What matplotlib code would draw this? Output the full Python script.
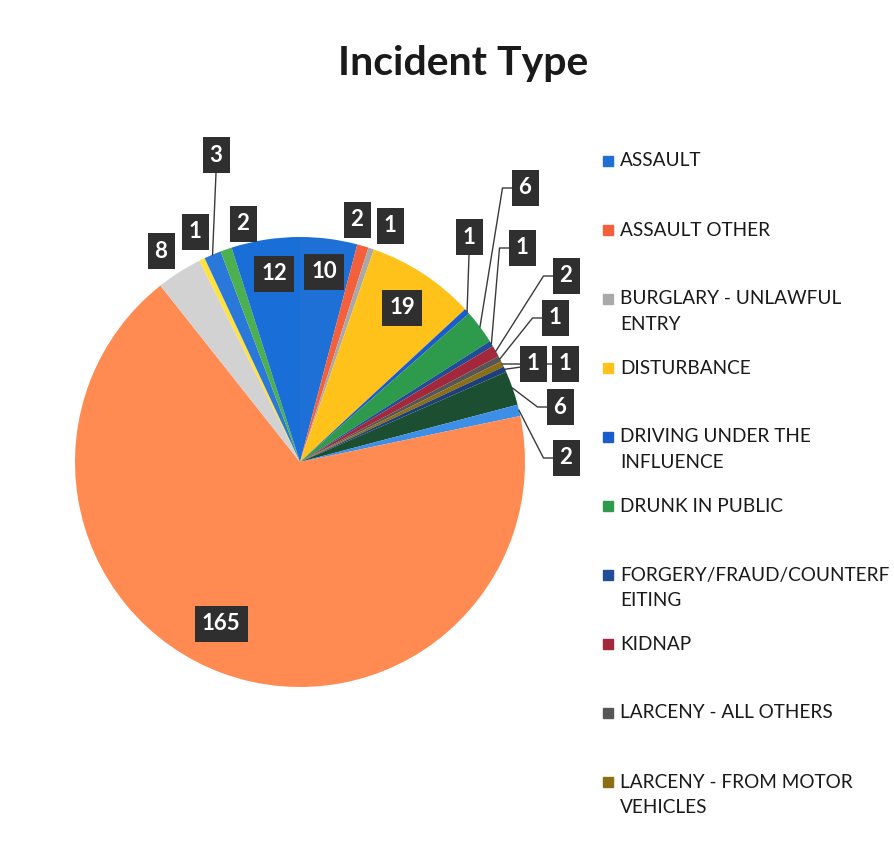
import numpy as np
import matplotlib
matplotlib.use("Agg")
import matplotlib.pyplot as plt
from matplotlib.patches import Rectangle

W, H = 894, 843

title = "Incident Type"

legend_labels = [
    "ASSAULT",
    "ASSAULT OTHER",
    "BURGLARY - UNLAWFUL\nENTRY",
    "DISTURBANCE",
    "DRIVING UNDER THE\nINFLUENCE",
    "DRUNK IN PUBLIC",
    "FORGERY/FRAUD/COUNTERF\nEITING",
    "KIDNAP",
    "LARCENY - ALL OTHERS",
    "LARCENY - FROM MOTOR\nVEHICLES",
]

# slice values, clockwise from 12 o'clock (only first 10 appear in legend)
counts = [10, 2, 1, 19, 1, 6, 1, 2, 1, 1, 1, 6, 2, 165, 8, 1, 3, 2, 12]

colors = [
    "#1E6FD6", "#F4603C", "#A9A9A9", "#FFC21A", "#1A5CCB", "#2E9A4C",
    "#1F4E96", "#A3283C", "#565656", "#8C6E14", "#1E3F7A", "#1C4F32",
    "#3C8EE6", "#FF8A52", "#D2D2D2", "#FFE23A", "#2A78DA", "#4CAF50",
    "#1A6ED8",
]

# label box centres in image pixels (x, y from top) and leader style
label_pos = [
    (324, 272, None), (357, 220, None), (390, 226, None), (402, 308, None),
    (469, 237, "v"), (525, 188, "h"), (522, 248, "h"), (566, 276, "h"),
    (555, 318, "h"), (533, 364, "h"), (565, 364, "h"), (560, 407, "h"),
    (566, 458, "h"), (221, 624, None), (161, 251, None), (195, 232, None),
    (216, 155, "v"), (243, 224, None), (274, 274, None),
]

cx, cy, R = 300, H - 462, 225
box_h = 36

fig = plt.figure(figsize=(W / 100, H / 100), dpi=100)
fig.patch.set_facecolor("white")
ax = fig.add_axes([0, 0, 1, 1])

wedges, _ = ax.pie(counts, colors=colors, startangle=90, counterclock=False,
                   center=(cx, cy), radius=R,
                   wedgeprops=dict(linewidth=0))
ax.set_xlim(0, W)
ax.set_ylim(0, H)
ax.set_aspect("equal")
ax.axis("off")

# data labels
for w, v, (lx, ly, lead) in zip(wedges, counts, label_pos):
    y = H - ly
    hw = 7 + 6.5 * len(str(v))
    mid = np.deg2rad((w.theta1 + w.theta2) / 2)
    ex, ey = cx + R * np.cos(mid), cy + R * np.sin(mid)
    if lead == "v":
        ax.plot([lx, ex], [y - box_h / 2, ey], color="#3A3A3A", lw=1, zorder=3)
    elif lead == "h":
        ax.plot([lx - hw, lx - hw - 9, ex], [y, y, ey],
                color="#3A3A3A", lw=1, zorder=3)
    ax.add_patch(Rectangle((lx - hw, y - box_h / 2), 2 * hw, box_h,
                           fc="#2F2F2F", ec="none", zorder=4))
    ax.text(lx, y, str(v), ha="center", va="center", color="white",
            fontsize=16, fontweight="bold", family="Lato", zorder=5)

# title
ax.text(463, H - 75, title, ha="center", va="baseline", fontsize=29.5,
        fontweight="bold", family="Lato", color="#1A1A1A")

# legend
for i, (lab, col) in enumerate(zip(legend_labels, colors)):
    y0 = H - (161 + i * 69)
    ax.add_patch(Rectangle((603, y0 - 5), 10, 10, color=col, zorder=4))
    for k, line in enumerate(lab.split("\n")):
        ax.text(620, y0 - k * 25.5, line, ha="left", va="center",
                fontsize=13.7, family="Lato", color="#1A1A1A")

fig.savefig("out.png", dpi=100, facecolor="white")
